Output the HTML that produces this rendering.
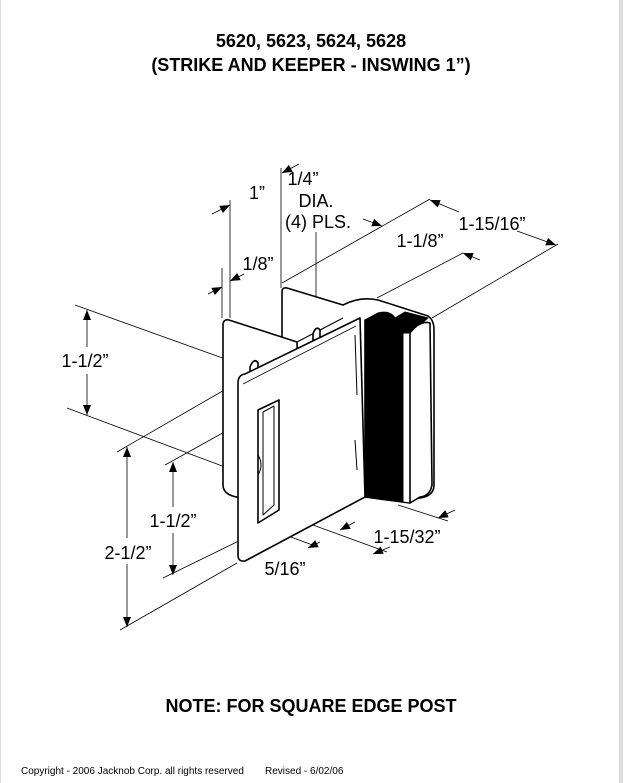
<!DOCTYPE html>
<html><head><meta charset="utf-8"><style>
html,body{margin:0;padding:0;background:#fff}
svg{display:block}
text{font-family:"Liberation Sans",Arial,sans-serif;fill:#000}
</style></head><body>
<svg width="623" height="783" viewBox="0 0 623 783" xmlns="http://www.w3.org/2000/svg">
<defs>
<marker id="a" viewBox="0 0 10 10" refX="10" refY="5" markerWidth="10" markerHeight="10" markerUnits="userSpaceOnUse" orient="auto"><path d="M0,1 L10,5 L0,9 Z" fill="#000"/></marker>
</defs>
<rect x="0" y="0" width="623" height="783" fill="#fff"/>
<rect x="619" y="0" width="4" height="783" fill="#ddd"/>
<rect x="0" y="0" width="1" height="783" fill="#ddd"/>

<text x="311" y="47" font-size="18" font-weight="bold" text-anchor="middle">5620, 5623, 5624, 5628</text>
<text x="311" y="71" font-size="18" font-weight="bold" text-anchor="middle">(STRIKE AND KEEPER - INSWING 1”)</text>

<g stroke="#000" stroke-width="0.8" fill="none">
<line x1="230" y1="200" x2="230" y2="318"/>
<line x1="222" y1="268" x2="222" y2="318"/>
<line x1="281" y1="168" x2="281" y2="288"/>
<line x1="282" y1="283" x2="430" y2="199"/>
<line x1="377" y1="298" x2="463" y2="253"/>
<line x1="432" y1="318" x2="558" y2="244"/>
<line x1="75" y1="305" x2="242" y2="365"/>
<line x1="67" y1="408" x2="233" y2="470"/>
<line x1="117" y1="452" x2="233" y2="385"/>
<line x1="120" y1="630" x2="237" y2="563"/>
<line x1="165" y1="465" x2="255" y2="415"/>
<line x1="163" y1="578" x2="247" y2="537"/>
<line x1="280" y1="513" x2="387" y2="552"/>
<line x1="258" y1="525" x2="318" y2="547"/>
<line x1="398" y1="505" x2="448" y2="521"/>
<line x1="87" y1="347" x2="87" y2="310" marker-end="url(#a)"/>
<line x1="87" y1="374" x2="87" y2="415" marker-end="url(#a)"/>
<line x1="127" y1="538" x2="127" y2="447" marker-end="url(#a)"/>
<line x1="127" y1="564" x2="127" y2="627" marker-end="url(#a)"/>
<line x1="173" y1="507" x2="173" y2="462" marker-end="url(#a)"/>
<line x1="173" y1="533" x2="173" y2="575" marker-end="url(#a)"/>
<line x1="212" y1="214" x2="230" y2="205" marker-end="url(#a)"/>
<line x1="208" y1="294" x2="222" y2="287" marker-end="url(#a)"/>
<line x1="244" y1="274" x2="230" y2="281" marker-end="url(#a)"/>
<line x1="299" y1="164" x2="282" y2="173" marker-end="url(#a)"/>
<line x1="316" y1="232" x2="316" y2="327" marker-end="url(#a)"/>
<line x1="363" y1="219" x2="382" y2="226" marker-end="url(#a)"/>
<line x1="459" y1="212" x2="430" y2="200" marker-end="url(#a)"/>
<line x1="480" y1="260" x2="463" y2="253" marker-end="url(#a)"/>
<line x1="517" y1="231" x2="556" y2="245" marker-end="url(#a)"/>
<line x1="355" y1="522" x2="340" y2="530" marker-end="url(#a)"/>
<line x1="455" y1="510" x2="438" y2="518" marker-end="url(#a)"/>
<line x1="320" y1="542" x2="308" y2="548" marker-end="url(#a)"/>
<line x1="390" y1="547" x2="373" y2="554" marker-end="url(#a)"/>
</g>

<g stroke="#000" stroke-width="1.6" fill="#fff" stroke-linejoin="round">
<path d="M282,292 Q282,287 287,288 L343,305 Q360,296 378,300 L428,316 Q434,320 434,330 L434,485 Q434,496 420,498 L402,500 L365,497 L282,480 Z"/>
<path d="M223,325 Q223,319 229,320 L297,342 L300,480 L245,498 Q223,497 223,485 Z"/>
<line x1="297" y1="342" x2="343" y2="318" stroke-width="1.2"/>
<path d="M313,334 Q316,325 320,330 L320,340 L313,340 Z"/>
<path d="M250,367 Q254,357 258,363 L258,372 L250,372 Z"/>
<path d="M365,320 L410,333 L410,503 L365,497 Z" fill="#000"/>
<path d="M365,320 L378,313 Q390,310 395,318 L405,312 L428,318 L410,333 Z" fill="#000" stroke-width="1"/>
<path d="M403,333 L410,333 L410,503 L403,502 Z" fill="#fff" stroke-width="1"/>
<path d="M410,333 Q420,320 430,323 L432,485 Q430,496 420,497 L410,503 Z" fill="#fff"/>
<path d="M238,383 Q238,375 245,374 L360,318 L365,497 L245,561 Q238,562 238,555 Z"/>
<path d="M243,384 L356,326" fill="none" stroke-width="0.8"/>
<line x1="355" y1="335" x2="357" y2="395" stroke-width="1"/>
<line x1="355" y1="440" x2="357" y2="470" stroke-width="1"/>
<path d="M258,410 L279,400 L279,510 L258,523 Z"/>
<path d="M263,412 L274,406 L274,505 L263,515 Z" stroke-width="1"/>
<path d="M258,455 Q264,465 258,475" fill="none" stroke-width="1"/>
</g>

<g font-size="18">
<text x="303" y="185" text-anchor="middle">1/4”</text>
<text x="316" y="207" text-anchor="middle">DIA.</text>
<text x="318" y="228" text-anchor="middle">(4) PLS.</text>
<text x="257" y="199" text-anchor="middle">1”</text>
<text x="492" y="230" text-anchor="middle">1-15/16”</text>
<text x="420" y="247" text-anchor="middle">1-1/8”</text>
<text x="258" y="270" text-anchor="middle">1/8”</text>
<text x="85" y="367" text-anchor="middle">1-1/2”</text>
<text x="173" y="527" text-anchor="middle">1-1/2”</text>
<text x="128" y="559" text-anchor="middle">2-1/2”</text>
<text x="407" y="543" text-anchor="middle">1-15/32”</text>
<text x="285" y="575" text-anchor="middle">5/16”</text>
</g>

<text x="311" y="712" font-size="18" font-weight="bold" text-anchor="middle">NOTE: FOR SQUARE EDGE POST</text>
<text x="21" y="774" font-size="10">Copyright - 2006 Jacknob Corp.  all rights reserved</text>
<text x="265" y="774" font-size="10">Revised - 6/02/06</text>
</svg>
</body></html>
